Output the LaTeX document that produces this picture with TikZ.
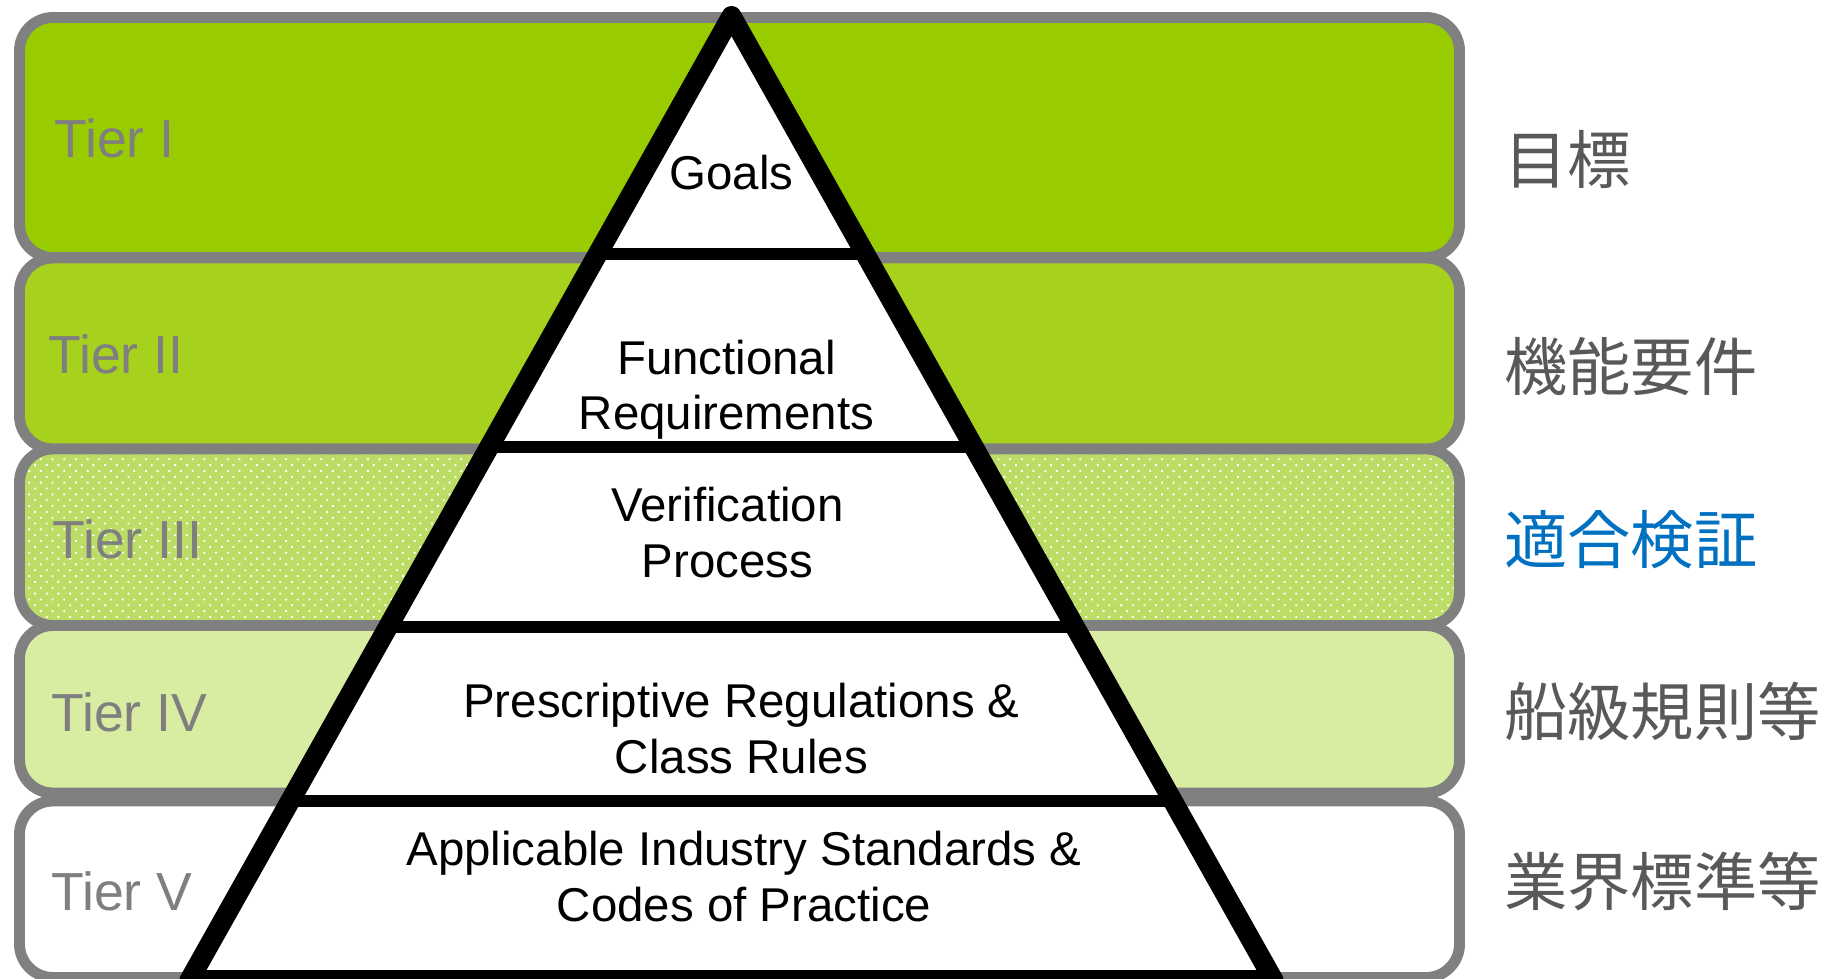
\documentclass[tikz,border=0pt]{standalone}
\usepackage{fontspec}
\setmainfont{Liberation Sans}
\newfontfamily\jpfont{Noto Sans CJK JP}
\usetikzlibrary{calc,patterns.meta}
\definecolor{TierOne}{HTML}{99CC00}
\definecolor{TierTwo}{HTML}{A6D21E}
\definecolor{TierThree}{HTML}{BBDD66}
\definecolor{TierFour}{HTML}{D8ECA2}
\definecolor{FrameGrey}{HTML}{808080}
\definecolor{LabelGrey}{HTML}{7F7F7F}
\definecolor{JpGrey}{HTML}{595959}
\definecolor{JpBlue}{HTML}{0070C0}
\newcommand{\Layer}{\fontsize{27}{31.5}\selectfont}
\tikzset{
  tier/.style={draw=FrameGrey, line width=6.2pt, rounded corners=19pt},
  tierlabel/.style={anchor=base west, inner sep=0pt, text=LabelGrey,
                    font=\fontsize{30.5}{34}\selectfont},
  jplabel/.style={anchor=west, inner sep=0pt, text=JpGrey,
                  font=\jpfont\fontsize{36}{40}\selectfont},
  layer/.style={align=center, inner sep=0pt, font=\Layer, anchor=base},
  bar/.style={line width=6.8pt},
  outline/.style={line width=11.3pt, line join=round},
}

\begin{document}
\begin{tikzpicture}[x=0.02cm, y=-0.02cm]
  \useasboundingbox (0,0) rectangle (1825,979);

  % tier bands
  \draw[tier, fill=TierOne] (19.5,17.5) rectangle (1459.5,257.5);
  \draw[tier, fill=TierTwo] (19.5,258) rectangle (1459.5,449);
  \draw[tier, preaction={fill=TierThree},
        pattern={Dots[distance=4.7pt, angle=45, radius=0.75pt]}, pattern color=white]
    (19.5,449) rectangle (1459.5,625.5);
  \draw[tier, fill=TierFour] (19.5,625.5) rectangle (1459.5,793);
  \draw[tier, fill=white] (19.5,801) rectangle (1459.5,977.5);

  \node[tierlabel] (tierI)   at (54,158)   {Tier I};
  \node[tierlabel] (tierII)  at (48,374)   {Tier II};
  \node[tierlabel] (tierIII) at (52,558)   {Tier III};
  \node[tierlabel] (tierIV)  at (51,731.5) {Tier IV};
  \node[tierlabel] (tierV)   at (51,910)   {Tier V};

  % pyramid
  \coordinate (apex)  at (731.5,16);
  \coordinate (baseL) at (189.5,980);
  \coordinate (baseR) at (1273.5,980);
  \fill[white] (apex) -- (baseL) -- (baseR) -- cycle;
  \foreach \y [evaluate=\y as \t using (\y-16)/964] in {254,447,627,801}
    \draw[bar] ($(apex)!\t!(baseL)$) -- ($(apex)!\t!(baseR)$);
  \draw[outline] (apex) -- (baseL) -- (baseR) -- cycle;

  % base anchor sits on the last line
  \node[layer] (goals) at (731.5,190) {Goals};
  \node[layer] (func)  at (726.5,430) {Functional\\Requirements};
  \node[layer] (verif) at (727.5,577) {Verification\\Process};
  \node[layer] (presc) at (741.5,773) {Prescriptive Regulations \&\\Class Rules};
  \node[layer] (indus) at (744,921)   {Applicable Industry Standards \&\\Codes of Practice};

  % japanese side labels
  \node[jplabel] (jpI)   at (1504,160) {目標};
  \node[jplabel] (jpII)  at (1504,366) {機能要件};
  \node[jplabel, text=JpBlue] (jpIII) at (1504,540) {適合検証};
  \node[jplabel] (jpIV)  at (1504,711) {船級規則等};
  \node[jplabel] (jpV)   at (1504,881) {業界標準等};
\end{tikzpicture}
\end{document}
